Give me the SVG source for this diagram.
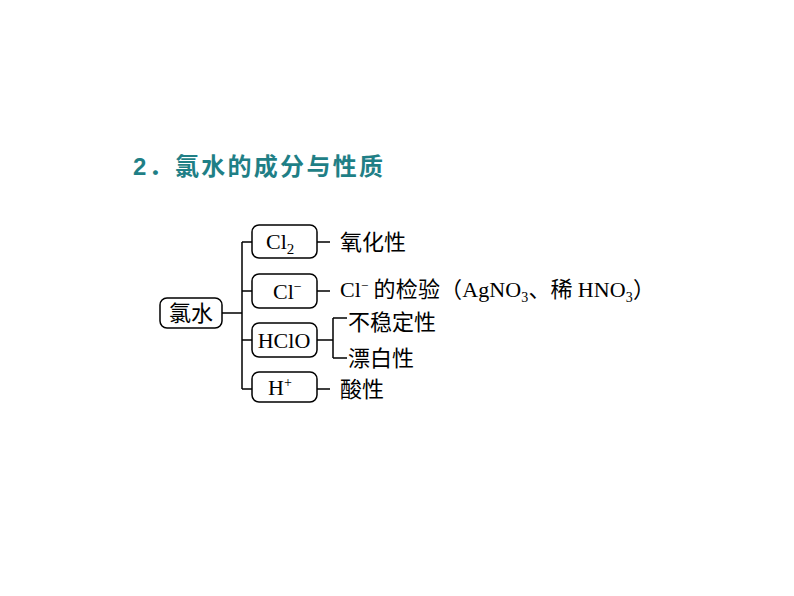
<svg xmlns="http://www.w3.org/2000/svg" width="794" height="596" viewBox="0 0 794 596">
<style>
.b{fill:#fff;stroke:#000;stroke-width:1.5}
.l{fill:none;stroke:#000;stroke-width:1.5}
.t{font-family:"Liberation Serif","Noto Sans CJK SC",serif;font-size:22px;fill:#000}
.c{font-family:"Noto Sans CJK SC",serif;font-size:22px;fill:#000}
</style>
<rect width="794" height="596" fill="#fff"/>
<text x="133" y="175" font-family="Liberation Sans,Noto Sans CJK SC,sans-serif" font-size="24" font-weight="bold" fill="#1f7f86" textLength="250" lengthAdjust="spacing">2．氯水的成分与性质</text>
<g id="connectors">
<path class="l" d="M222 313H242M242 242V389M242 242H252M242 291H252M242 340H252M242 389H252"/>
<path class="l" d="M317 242H330M317 291H330M317 340H333M333 318V358M333 318H347M333 358H347M317 389H330"/>
</g>
<g id="n0"><rect class="b" x="160" y="298" width="62" height="30" rx="7"/><text class="c" x="191" y="321" text-anchor="middle">氯水</text></g>
<g id="n1"><rect class="b" x="252" y="225" width="65" height="33" rx="7"/><text class="t" x="266" y="249">Cl<tspan font-size="15" dy="5">2</tspan></text></g>
<g id="n2"><rect class="b" x="252" y="274" width="65" height="34" rx="7"/><text class="t" x="273" y="299">Cl<tspan font-size="14" dy="-8">−</tspan></text></g>
<g id="n3"><rect class="b" x="252" y="323" width="65" height="34" rx="7"/><text class="t" x="284" y="348" text-anchor="middle">HClO</text></g>
<g id="n4"><rect class="b" x="252" y="372" width="65" height="30" rx="7"/><text class="t" x="268" y="395">H<tspan font-size="14" dy="-8">+</tspan></text></g>
<g id="labels">
<text class="c" x="340" y="250">氧化性</text>
<text class="t" x="340" y="297" textLength="315" lengthAdjust="spacing">Cl<tspan font-size="13" dy="-7">−</tspan><tspan dy="7" font-family="Noto Sans CJK SC"> 的检验（</tspan>AgNO<tspan font-size="14" dy="5">3</tspan><tspan dy="-5" font-family="Noto Sans CJK SC">、稀 </tspan>HNO<tspan font-size="14" dy="5">3</tspan><tspan dy="-5" font-family="Noto Sans CJK SC">）</tspan></text>
<text class="c" x="348" y="330">不稳定性</text>
<text class="c" x="348" y="366">漂白性</text>
<text class="c" x="340" y="397">酸性</text>
</g>
</svg>
